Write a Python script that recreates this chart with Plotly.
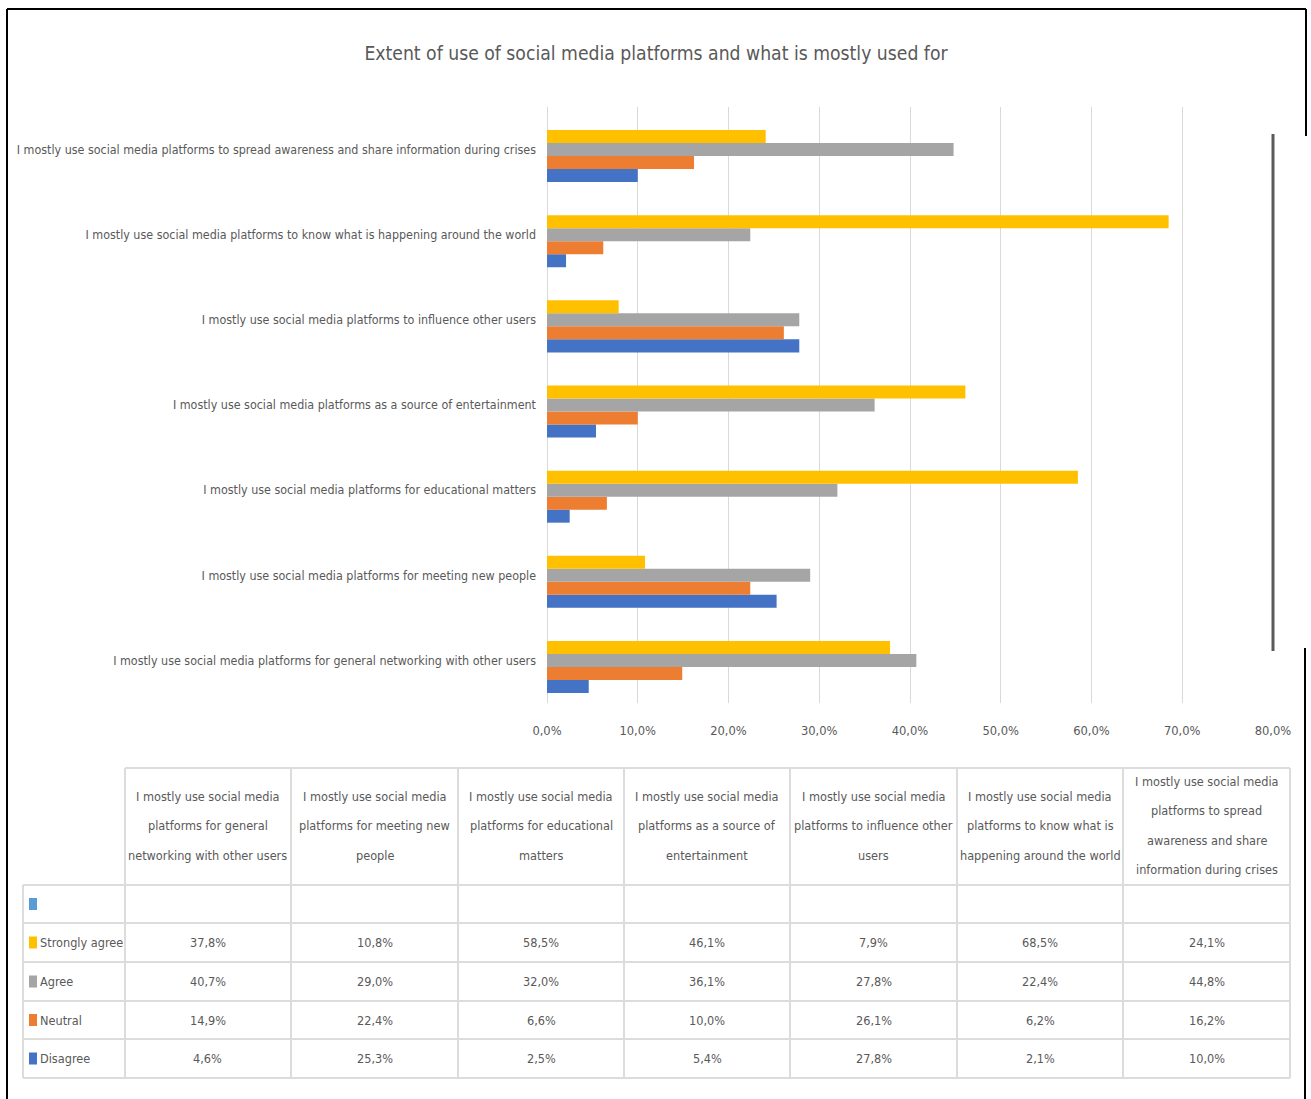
import plotly.graph_objects as go

# ---------------- data ----------------
categories = [
    "I mostly use social media platforms for general networking with other users",
    "I mostly use social media platforms for meeting new people",
    "I mostly use social media platforms for educational matters",
    "I mostly use social media platforms as a source of entertainment",
    "I mostly use social media platforms to influence other users",
    "I mostly use social media platforms to know what is happening around the world",
    "I mostly use social media platforms to spread awareness and share information during crises",
]
header_lines = [
    ["I mostly use social media", "platforms for general", "networking with other users"],
    ["I mostly use social media", "platforms for meeting new", "people"],
    ["I mostly use social media", "platforms for educational", "matters"],
    ["I mostly use social media", "platforms as a source of", "entertainment"],
    ["I mostly use social media", "platforms to influence other", "users"],
    ["I mostly use social media", "platforms to know what is", "happening around the world"],
    ["I mostly use social media", "platforms to spread", "awareness and share", "information during crises"],
]
blank_series = [None, None, None, None, None, None, None]
strongly_agree = [37.8, 10.8, 58.5, 46.1, 7.9, 68.5, 24.1]
agree = [40.7, 29.0, 32.0, 36.1, 27.8, 22.4, 44.8]
neutral = [14.9, 22.4, 6.6, 10.0, 26.1, 6.2, 16.2]
disagree = [4.6, 25.3, 2.5, 5.4, 27.8, 2.1, 10.0]
series_names = ["", "Strongly agree", "Agree", "Neutral", "Disagree"]
tick_values = [0, 10, 20, 30, 40, 50, 60, 70, 80]
tick_labels = ["0,0%", "10,0%", "20,0%", "30,0%", "40,0%", "50,0%", "60,0%", "70,0%", "80,0%"]
title_text = "Extent of use of social media platforms and what is mostly used for"

# ---------------- styles ----------------
W, H = 1311, 1099
FONT = "DejaVu Sans Condensed, Liberation Sans Narrow, sans-serif"
TXT = "#595959"
colors = {"": "#5B9BD5", "Strongly agree": "#FFC000", "Agree": "#A5A5A5",
          "Neutral": "#ED7D31", "Disagree": "#4472C4"}
series_values = {"": blank_series, "Strongly agree": strongly_agree, "Agree": agree,
                 "Neutral": neutral, "Disagree": disagree}


def px(x):
    return x / W


def py(y):
    return 1 - y / H


fig = go.Figure()
# bottom-to-top order within each group
for name in ["Disagree", "Neutral", "Agree", "Strongly agree", ""]:
    fig.add_trace(go.Bar(
        y=categories, x=series_values[name], orientation="h", name=name,
        marker=dict(color=colors[name], line=dict(width=0)), showlegend=False,
        hoverinfo="x+y",
    ))

shapes = []
annotations = []

# dark bar over the 80% gridline
shapes.append(dict(type="line", xref="paper", yref="paper", x0=px(1273), x1=px(1273),
                   y0=py(134), y1=py(651), line=dict(color="#5a5a5a", width=3)))

# outer frame
frame_col = "#000000"
shapes.append(dict(type="line", xref="paper", yref="paper", x0=px(7), x1=px(1306), y0=py(9), y1=py(9),
                   line=dict(color=frame_col, width=2)))
shapes.append(dict(type="line", xref="paper", yref="paper", x0=px(7), x1=px(7), y0=py(9), y1=py(1099),
                   line=dict(color=frame_col, width=2)))
shapes.append(dict(type="line", xref="paper", yref="paper", x0=px(1306), x1=px(1306), y0=py(9), y1=py(136),
                   line=dict(color=frame_col, width=2)))
shapes.append(dict(type="line", xref="paper", yref="paper", x0=px(1305), x1=px(1305), y0=py(648), y1=py(1099),
                   line=dict(color=frame_col, width=2)))

# ---------------- data table ----------------
grid_col = "#dcdcdc"
col_edges = [125, 291, 458, 624, 790, 957, 1123, 1290]
row_edges = [885, 923, 962, 1001, 1039, 1078]
tbl_left = 23
hdr_top = 768
TS = 12.6

# header row lines
shapes.append(dict(type="line", xref="paper", yref="paper", x0=px(col_edges[0]), x1=px(col_edges[-1]),
                   y0=py(hdr_top), y1=py(hdr_top), line=dict(color=grid_col, width=2)))
for i, ce in enumerate(col_edges):
    shapes.append(dict(type="line", xref="paper", yref="paper", x0=px(ce), x1=px(ce),
                       y0=py(hdr_top), y1=py(row_edges[-1]), line=dict(color=grid_col, width=2)))
shapes.append(dict(type="line", xref="paper", yref="paper", x0=px(tbl_left), x1=px(tbl_left),
                   y0=py(row_edges[0]), y1=py(row_edges[-1]), line=dict(color=grid_col, width=2)))
for re_ in row_edges:
    shapes.append(dict(type="line", xref="paper", yref="paper", x0=px(tbl_left), x1=px(col_edges[-1]),
                       y0=py(re_), y1=py(re_), line=dict(color=grid_col, width=2)))

# header texts
hdr_center = 825.5
line_step = 29.5
for ci, lines in enumerate(header_lines):
    cx = (col_edges[ci] + col_edges[ci + 1]) / 2
    n = len(lines)
    for li, t in enumerate(lines):
        yy = hdr_center + (li - (n - 1) / 2) * line_step
        annotations.append(dict(xref="paper", yref="paper", x=px(cx), y=py(yy), text=t,
                                showarrow=False, xanchor="center", yanchor="middle",
                                font=dict(family=FONT, size=TS, color=TXT)))

# series rows
for ri, name in enumerate(series_names):
    top, bot = row_edges[ri], row_edges[ri + 1]
    cy = (top + bot) / 2
    # legend key
    shapes.append(dict(type="rect", xref="paper", yref="paper", x0=px(29), x1=px(37),
                       y0=py(cy - 6), y1=py(cy + 6), fillcolor=colors[name], line=dict(width=0)))
    if name:
        annotations.append(dict(xref="paper", yref="paper", x=px(38), y=py(cy), text=name,
                                showarrow=False, xanchor="left", yanchor="middle",
                                font=dict(family=FONT, size=TS, color=TXT)))
    vals = series_values[name]
    for ci, v in enumerate(vals):
        if v is None:
            continue
        cx = (col_edges[ci] + col_edges[ci + 1]) / 2
        annotations.append(dict(xref="paper", yref="paper", x=px(cx), y=py(cy),
                                text=f"{v:.1f}%".replace(".", ","),
                                showarrow=False, xanchor="center", yanchor="middle",
                                font=dict(family=FONT, size=TS, color=TXT)))

fig.update_layout(
    width=W, height=H, autosize=False,
    margin=dict(l=0, r=0, t=0, b=0, autoexpand=False),
    paper_bgcolor="white", plot_bgcolor="white",
    barmode="group", bargap=0.236, bargroupgap=0,
    title=dict(text=title_text, x=px(656), xanchor="center", y=py(53), yanchor="middle",
               yref="container", font=dict(family=FONT, size=19.2, color=TXT)),
    xaxis=dict(domain=[px(547), px(1273)], range=[0, 80], tickvals=tick_values, ticktext=tick_labels,
               showgrid=True, gridcolor="#d9d9d9", gridwidth=1, zeroline=True, zerolinecolor="#d9d9d9",
               zerolinewidth=1, showline=False, ticks="", ticklabelstandoff=18, automargin=False,
               tickfont=dict(family=FONT, size=12.8, color=TXT), fixedrange=True),
    yaxis=dict(domain=[py(703), py(107)], range=[-0.5, 6.5], type="category",
               categoryorder="array", categoryarray=categories, automargin=False,
               showgrid=False, zeroline=False, showline=False, ticks="", ticklabelstandoff=10,
               tickfont=dict(family=FONT, size=12.4, color=TXT), fixedrange=True),
    shapes=shapes, annotations=annotations,
)

fig.write_html("out.html")
